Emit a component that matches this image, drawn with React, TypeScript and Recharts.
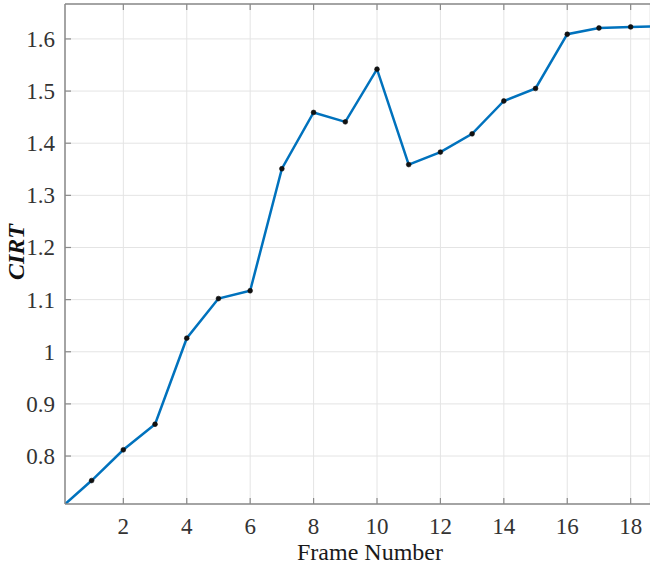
import { LineChart, Line, XAxis, YAxis, CartesianGrid, Label } from "recharts";

const frames = [0, 1, 2, 3, 4, 5, 6, 7, 8, 9, 10, 11, 12, 13, 14, 15, 16, 17, 18, 19];
const cirt = [
  0.699, 0.753, 0.812, 0.861, 1.026, 1.102, 1.117, 1.351, 1.459, 1.441, 1.542,
  1.359, 1.383, 1.418, 1.481, 1.505, 1.609, 1.621, 1.623, 1.624,
];
const xTicks = [2, 4, 6, 8, 10, 12, 14, 16, 18];
const yTicks = [0.8, 0.9, 1.0, 1.1, 1.2, 1.3, 1.4, 1.5, 1.6];

const data = frames.map((f, i) => ({ frame: f, cirt: cirt[i] }));

const FONT = '"Liberation Serif", "Times New Roman", serif';
const AXIS = "#8a8a8a";
const TEXT = "#333333";
const tickText = { fontFamily: FONT, fontSize: 23, fill: TEXT };

const fmtY = (v: number) => String(Number(v.toFixed(1)));

const BottomTick = ({ x, y, payload }: any) => (
  <g>
    <line x1={x} x2={x} y1={y} y2={y - 6} stroke={AXIS} strokeWidth={1.2} />
    <text x={x} y={y + 30} textAnchor="middle" style={tickText}>
      {payload.value}
    </text>
  </g>
);

const TopTick = ({ x, y }: any) => (
  <line x1={x} x2={x} y1={y} y2={y + 6} stroke={AXIS} strokeWidth={1.2} />
);

const LeftTick = ({ x, y, payload }: any) => (
  <g>
    <line x1={x} x2={x + 6} y1={y} y2={y} stroke={AXIS} strokeWidth={1.2} />
    <text x={x - 10} y={y + 8} textAnchor="end" style={tickText}>
      {fmtY(payload.value)}
    </text>
  </g>
);

const Dot = (p: any) => {
  const f = p.payload?.frame;
  if (f < 1 || f > 18) return <g key={p.index} />;
  return <circle key={p.index} cx={p.cx} cy={p.cy} r={2.4} fill="#111" stroke="#111" strokeWidth={0.6} />;
};

export default function App() {
  return (
    <div style={{ position: "absolute", left: 0, top: 0, width: 650, height: 567, background: "#fff" }}>
      <LineChart
        width={650}
        height={567}
        data={data}
        margin={{ top: 0, right: 0, bottom: 0, left: 0 }}
      >
        <CartesianGrid stroke="#e4e4e4" strokeWidth={1} />
        <XAxis
          dataKey="frame"
          type="number"
          domain={[0.16, 18.61]}
          ticks={xTicks}
          allowDataOverflow
          height={63}
          tickSize={0}
          tickMargin={0}
          tickLine={false}
          axisLine={{ stroke: AXIS, strokeWidth: 1.5 }}
          tick={BottomTick}
          interval={0}
        >
          <Label
            content={() => (
              <text x={370} y={560} textAnchor="middle" style={{ fontFamily: FONT, fontSize: 24, fill: "#1a1a1a" }}>
                Frame Number
              </text>
            )}
          />
        </XAxis>
        <XAxis
          xAxisId="top"
          orientation="top"
          dataKey="frame"
          type="number"
          domain={[0.16, 18.61]}
          ticks={xTicks}
          allowDataOverflow
          height={4}
          tickSize={0}
          tickMargin={0}
          tickLine={false}
          axisLine={{ stroke: AXIS, strokeWidth: 1.5 }}
          tick={TopTick}
          interval={0}
        />
        <YAxis
          type="number"
          domain={[0.708, 1.667]}
          ticks={yTicks}
          allowDataOverflow
          width={65}
          tickSize={0}
          tickMargin={0}
          tickLine={false}
          axisLine={{ stroke: AXIS, strokeWidth: 1.5 }}
          tick={LeftTick}
          interval={0}
        >
          <Label
            content={() => (
              <text
                x={24}
                y={252}
                transform="rotate(-90 24 252)"
                textAnchor="middle"
                style={{ fontFamily: FONT, fontSize: 24, fontWeight: "bold", fontStyle: "italic", fill: "#111" }}
              >
                CIRT
              </text>
            )}
          />
        </YAxis>
        <Line
          type="linear"
          dataKey="cirt"
          stroke="#0072BD"
          strokeWidth={2.5}
          dot={Dot}
          activeDot={false}
          isAnimationActive={false}
        />
      </LineChart>
    </div>
  );
}
